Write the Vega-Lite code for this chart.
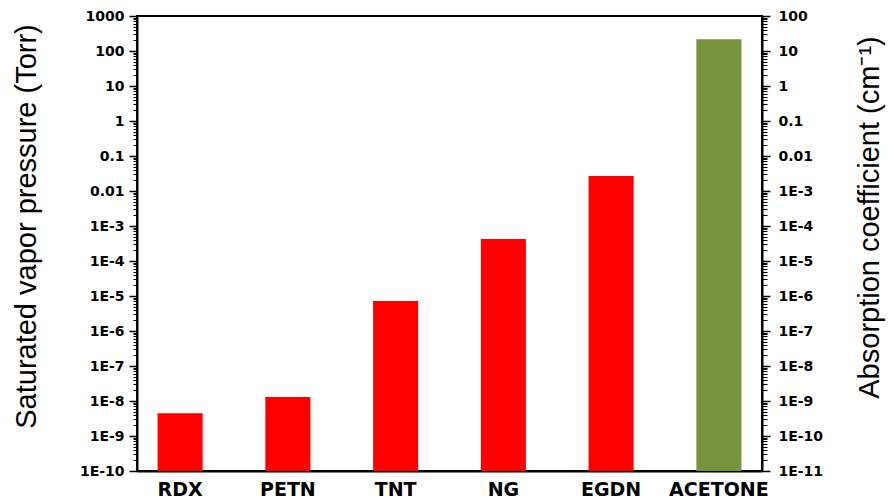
{
  "$schema": "https://vega.github.io/schema/vega-lite/v6.json",
  "autosize": {"type": "none"},
  "width": 625,
  "height": 455,
  "padding": {"left": 137, "top": 16, "right": 128, "bottom": 30},
  "background": "white",
  "config": {
    "view": {"stroke": "black", "strokeWidth": 2},
    "axis": {"domainColor": "black", "tickColor": "black", "labelColor": "black", "titleColor": "black", "grid": false}
  },
  "data": {
    "values": [
      {"compound": "RDX", "vp": 4.45e-9, "kind": "explosive"},
      {"compound": "PETN", "vp": 1.3e-8, "kind": "explosive"},
      {"compound": "TNT", "vp": 7.2e-6, "kind": "explosive"},
      {"compound": "NG", "vp": 4.25e-4, "kind": "explosive"},
      {"compound": "EGDN", "vp": 0.0268, "kind": "explosive"},
      {"compound": "ACETONE", "vp": 216, "kind": "solvent"}
    ]
  },
  "encoding": {
    "x": {
      "field": "compound", "type": "nominal", "sort": null,
      "scale": {"paddingInner": 0.582, "paddingOuter": 0.191},
      "axis": {"title": null, "labelAngle": 0, "ticks": false, "domainWidth": 2, "labelFont": "DejaVu Sans", "labelFontWeight": "bold", "labelFontSize": 19, "labelPadding": 9}
    }
  },
  "layer": [
    {
      "mark": {"type": "bar", "clip": true},
      "encoding": {
        "y": {
          "field": "vp", "type": "quantitative",
          "scale": {"type": "log", "domain": [1e-10, 1000], "nice": false},
          "axis": {
            "orient": "left",
            "values": [1e-10,2e-10,3e-10,4e-10,5e-10,6e-10,7e-10,8e-10,9e-10,1e-9,2e-9,3e-9,4e-9,5e-9,6e-9,7e-9,8e-9,9e-9,1e-8,2e-8,3e-8,4e-8,5e-8,6e-8,7e-8,8e-8,9e-8,1e-7,2e-7,3e-7,4e-7,5e-7,6e-7,7e-7,8e-7,9e-7,1e-6,2e-6,3e-6,4e-6,5e-6,6e-6,7e-6,8e-6,9e-6,1e-5,2e-5,3e-5,4e-5,5e-5,6e-5,7e-5,8e-5,9e-5,1e-4,2e-4,3e-4,4e-4,5e-4,6e-4,7e-4,8e-4,9e-4,1e-3,2e-3,3e-3,4e-3,5e-3,6e-3,7e-3,8e-3,9e-3,0.01,0.02,0.03,0.04,0.05,0.06,0.07,0.08,0.09,0.1,0.2,0.3,0.4,0.5,0.6,0.7,0.8,0.9,1,2,3,4,5,6,7,8,9,10,20,30,40,50,60,70,80,90,100,200,300,400,500,600,700,800,900,1000],
            "labelExpr": "abs(log(datum.value)/LN10 - round(log(datum.value)/LN10)) > 0.001 ? '' : datum.value >= 1 ? format(datum.value, 'd') : datum.value >= 0.01 ? format(datum.value, '.2~f') : '1E' + round(log(datum.value) / LN10)",
            "labelOverlap": false, "labelFlush": false,
            "labelFont": "DejaVu Sans", "labelFontWeight": "bold", "labelFontSize": 14, "labelPadding": 5,
            "tickSize": {"condition": {"test": "abs(log(datum.value)/LN10 - round(log(datum.value)/LN10)) > 0.001", "value": 4}, "value": 8},
            "tickWidth": {"condition": {"test": "abs(log(datum.value)/LN10 - round(log(datum.value)/LN10)) > 0.001", "value": 1}, "value": 1.5},
            "domainWidth": 2,
            "title": "Saturated vapor pressure (Torr)",
            "titleFont": "Liberation Sans", "titleFontWeight": "normal", "titleFontSize": 29,
            "titleBaseline": "bottom", "titleAngle": -90, "titleX": -96, "titleY": 210
          }
        },
        "y2": {"datum": 1e-10},
        "color": {
          "field": "kind", "type": "nominal",
          "scale": {"domain": ["explosive", "solvent"], "range": ["#FF0000", "#77933C"]},
          "legend": null
        }
      }
    },
    {
      "mark": {"type": "point", "opacity": 0},
      "encoding": {
        "y": {
          "field": "vp", "type": "quantitative",
          "scale": {"type": "log", "domain": [1e-11, 100], "nice": false},
          "axis": {
            "orient": "right",
            "values": [1e-11,2e-11,3e-11,4e-11,5e-11,6e-11,7e-11,8e-11,9e-11,1e-10,2e-10,3e-10,4e-10,5e-10,6e-10,7e-10,8e-10,9e-10,1e-9,2e-9,3e-9,4e-9,5e-9,6e-9,7e-9,8e-9,9e-9,1e-8,2e-8,3e-8,4e-8,5e-8,6e-8,7e-8,8e-8,9e-8,1e-7,2e-7,3e-7,4e-7,5e-7,6e-7,7e-7,8e-7,9e-7,1e-6,2e-6,3e-6,4e-6,5e-6,6e-6,7e-6,8e-6,9e-6,1e-5,2e-5,3e-5,4e-5,5e-5,6e-5,7e-5,8e-5,9e-5,1e-4,2e-4,3e-4,4e-4,5e-4,6e-4,7e-4,8e-4,9e-4,1e-3,2e-3,3e-3,4e-3,5e-3,6e-3,7e-3,8e-3,9e-3,0.01,0.02,0.03,0.04,0.05,0.06,0.07,0.08,0.09,0.1,0.2,0.3,0.4,0.5,0.6,0.7,0.8,0.9,1,2,3,4,5,6,7,8,9,10,20,30,40,50,60,70,80,90,100],
            "labelExpr": "abs(log(datum.value)/LN10 - round(log(datum.value)/LN10)) > 0.001 ? '' : datum.value >= 1 ? format(datum.value, 'd') : datum.value >= 0.01 ? format(datum.value, '.2~f') : '1E' + round(log(datum.value) / LN10)",
            "labelOverlap": false, "labelFlush": false,
            "labelFont": "DejaVu Sans", "labelFontWeight": "bold", "labelFontSize": 14, "labelPadding": 8,
            "tickSize": {"condition": {"test": "abs(log(datum.value)/LN10 - round(log(datum.value)/LN10)) > 0.001", "value": 5}, "value": 8},
            "tickWidth": {"condition": {"test": "abs(log(datum.value)/LN10 - round(log(datum.value)/LN10)) > 0.001", "value": 1}, "value": 1.5},
            "domainWidth": 2,
            "title": "Absorption coefficient (cm⁻¹)",
            "titleFont": "Liberation Sans", "titleFontWeight": "normal", "titleFontSize": 29,
            "titleBaseline": "bottom", "titleAngle": -90, "titleX": 122, "titleY": 201
          }
        }
      }
    }
  ],
  "resolve": {"scale": {"y": "independent"}, "axis": {"y": "independent"}}
}
